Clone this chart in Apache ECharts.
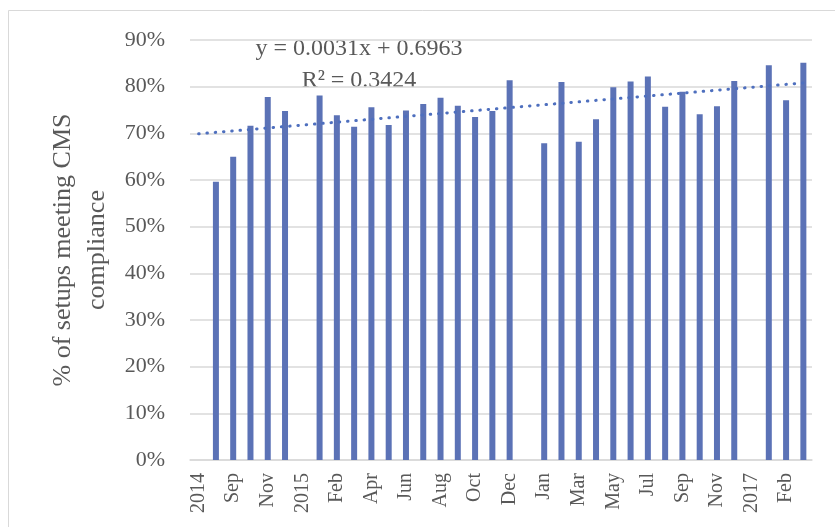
<!DOCTYPE html>
<html>
<head>
<meta charset="utf-8">
<script src="https://cdn.jsdelivr.net/npm/echarts@6/dist/echarts.min.js"></script>
<style>
html,body{margin:0;padding:0;background:#fff;}
#chart{width:835px;height:527px;}
</style>
</head>
<body>
<div id="chart"></div>
<script>
const categories = ["2014","Aug","Sep","Oct","Nov","Dec","2015","Jan","Feb","Mar","Apr","May","Jun","Jul","Aug","Sep","Oct","Nov","Dec","2016","Jan","Feb","Mar","Apr","May","Jun","Jul","Aug","Sep","Oct","Nov","Dec","2017","Jan","Feb","Mar"];
const compliance = [null,59.6,65.0,71.6,77.8,74.8,null,78.1,73.9,71.4,75.6,71.8,74.9,76.3,77.6,75.9,73.5,74.8,81.4,null,67.9,81.0,68.2,73.0,79.9,81.1,82.2,75.7,78.9,74.1,75.8,81.2,null,84.6,77.1,85.1];
const trendEnds = [69.9, 80.8];
const equationLines = ["y = 0.0031x + 0.6963", "R\u00B2 = 0.3424"];
const yAxisTitle = "% of setups meeting CMS\ncompliance";

const FONT = "'Liberation Serif', 'DejaVu Serif', serif";
const TXT = '#595959';
const chart = echarts.init(document.getElementById('chart'), null, {renderer: 'canvas'});
chart.setOption({
  animation: false,
  backgroundColor: '#fff',
  grid: {left: 190, right: 23, top: 40, bottom: 67},
  xAxis: {
    type: 'category',
    data: categories,
    boundaryGap: true,
    axisLine: {lineStyle: {color: '#d9d9d9', width: 1.5}},
    axisTick: {show: false},
    axisLabel: {interval: 1, rotate: 90, margin: 13, color: TXT, fontFamily: FONT, fontSize: 20}
  },
  yAxis: {
    type: 'value',
    min: 0, max: 90, interval: 10,
    name: yAxisTitle,
    nameLocation: 'middle',
    nameGap: 72,
    nameTextStyle: {color: TXT, fontFamily: FONT, fontSize: 26, lineHeight: 34},
    axisLine: {show: false},
    axisTick: {show: false},
    axisLabel: {formatter: '{value}%', color: TXT, fontFamily: FONT, fontSize: 22, margin: 25},
    splitLine: {lineStyle: {color: '#d9d9d9', width: 1.5}}
  },
  series: [{
    type: 'bar',
    data: compliance,
    barWidth: 6,
    itemStyle: {color: '#5b72b6'},
    markLine: {
      silent: true,
      symbol: 'none',
      label: {show: false},
      lineStyle: {color: '#4e6fbe', width: 3, type: [0.5, 7.8], cap: 'round'},
      data: [[{coord: [0, trendEnds[0]]}, {coord: [categories.length - 1, trendEnds[1]]}]]
    }
  }],
  graphic: [
    {type: 'rect', shape: {x: 8.5, y: 10.5, width: 900, height: 600}, style: {fill: 'none', stroke: '#d9d9d9', lineWidth: 1}, silent: true},
    {type: 'text', x: 359, y: 33, style: {text: equationLines.join('\n'), textAlign: 'center', textVerticalAlign: 'top', fill: TXT, font: "24px 'Liberation Serif', serif", lineHeight: 32}}
  ]
});
</script>
</body>
</html>
